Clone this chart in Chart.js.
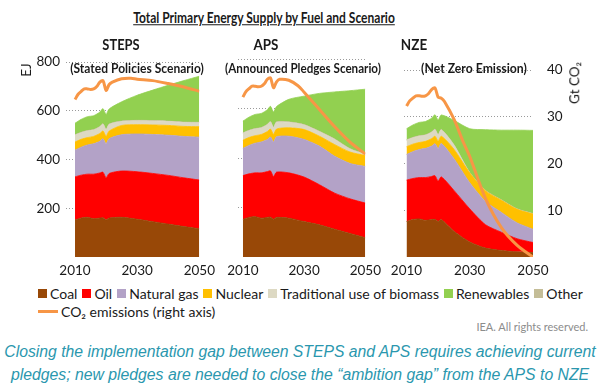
<!DOCTYPE html>
<html><head><meta charset="utf-8">
<script src="https://cdn.jsdelivr.net/npm/chart.js@4.4.1/dist/chart.umd.min.js"></script>
<style>
html,body{margin:0;padding:0;background:#fff;}
#wrap{position:relative;width:600px;height:388px;overflow:hidden;font-family:Lato,'Liberation Sans',sans-serif;color:#1a1a1a;}
canvas{position:absolute;}
.t{position:absolute;white-space:nowrap;transform:translate(-50%,-50%);line-height:1;}
.b{font-weight:bold;font-family:Lato,'Liberation Sans',sans-serif;}
.rot{transform:translate(-50%,-50%) rotate(-90deg);}
#legend{position:absolute;left:38px;top:284px;font-size:14px;font-family:Lato,'Liberation Sans',sans-serif;color:#1a1a1a;}
#legend .row{display:flex;align-items:center;height:18px;white-space:nowrap;}
#legend .sw{display:inline-block;width:9px;height:9px;margin-right:3px;}
#legend .it{display:flex;align-items:center;margin-right:5px;}
#legend .ln{display:inline-block;width:20px;height:3px;background:#F79646;margin-right:3px;}
#note{position:absolute;right:12px;top:320px;font-size:11px;color:#8c8c8c;font-family:Lato,sans-serif;}
.foot{position:absolute;left:300px;transform:translate(-50%,-50%);white-space:nowrap;font-style:italic;font-size:16px;color:#2a97ae;font-family:'Liberation Sans',sans-serif;line-height:1;}
</style>
</head><body>
<div id="wrap">
  <canvas id="c1" width="221" height="232" style="left:0px;top:48px;width:221px;height:232px"></canvas>
  <canvas id="c2" width="169" height="232" style="left:218px;top:48px;width:169px;height:232px"></canvas>
  <canvas id="c3" width="199" height="232" style="left:384px;top:48px;width:199px;height:232px"></canvas>

  <div class="t b fit" data-w="262" style="left:264px;top:18px;font-size:15.5px;text-decoration:underline;">Total Primary Energy Supply by Fuel and Scenario</div>
  <div class="t b fit" data-w="37" style="left:121px;top:44px;font-size:15px;">STEPS</div>
  <div class="t b fit" data-w="25" style="left:266px;top:44px;font-size:15px;">APS</div>
  <div class="t b fit" data-w="26" style="left:414px;top:44px;font-size:15px;">NZE</div>
  <div class="t b fit" data-w="134" style="left:137px;top:69px;font-size:13.5px;">(Stated Policies Scenario)</div>
  <div class="t b fit" data-w="156" style="left:303px;top:69px;font-size:13.5px;">(Announced Pledges Scenario)</div>
  <div class="t b fit" data-w="106" style="left:474px;top:69px;font-size:13.5px;">(Net Zero Emission)</div>
  <div class="t rot" style="left:27px;top:70px;font-size:13.5px;">EJ</div>
  <div class="t rot" style="left:575px;top:83px;font-size:13.5px;">Gt CO₂</div>

  <div id="legend"></div>
  <div id="note">IEA. All rights reserved.</div>
  <div class="foot fit" data-w="592" style="top:352px;">Closing the implementation gap between STEPS and APS requires achieving current</div>
  <div class="foot fit" data-w="578" style="top:375px;">pledges; new pledges are needed to close the “ambition gap” from the APS to NZE</div>
</div>
<script>
// ---- Data (EJ for fuels, Gt CO2 for emissions) ----
const histYears = [2010, 2012, 2014, 2016, 2018, 2019, 2020, 2021];
const histCoal = [152, 160, 163, 157, 160, 161, 153, 160];
const histOil = [177, 176, 177, 183, 185, 187, 172, 183];
const histGas = [110, 115, 120, 125, 130, 137, 140, 143];
const histNuclear = [33, 32, 30, 30, 32, 32, 31, 31];
const histTradBio = [28, 27, 27, 26, 27, 28, 26, 27];
const histOther = [2, 2, 2, 2, 2, 2, 2, 2];
const histRenew = [47, 53, 57, 57, 59, 62, 62, 62];

const projYears = [2025, 2030, 2035, 2040, 2045, 2050];

const stepsCoal = [163, 155, 145, 135, 125, 116];
const stepsOil = [190, 195, 198, 200, 200, 200];
const stepsGas = [149, 155, 160, 165, 170, 176];
const stepsNuclear = [38, 38, 39, 40, 41, 43];
const stepsTradBio = [16, 16, 16, 16, 16, 16];
const stepsOther = [2, 2, 2, 2, 2, 2];
const stepsRenew = [79, 103, 125, 147, 170, 189];

const apsCoal = [157, 143, 130, 112, 95, 78];
const apsOil = [183, 180, 162, 146, 140, 140];
const apsGas = [148, 152, 156, 149, 143, 148];
const apsNuclear = [34, 40, 40, 47, 46, 44];
const apsTradBio = [22, 18, 18, 21, 12, 4];
const apsOther = [2, 2, 2, 2, 2, 2];
const apsRenew = [91, 115, 153, 190, 234, 262];

const nzeCoal = [110, 64, 38, 28, 22, 19];
const nzeOil = [175, 142, 100, 78, 56, 43];
const nzeGas = [136, 112, 100, 85, 68, 57];
const nzeNuclear = [40, 42, 45, 52, 58, 65];
const nzeTradBio = [18, 0, 0, 0, 0, 0];
const nzeOther = [2, 2, 2, 2, 2, 2];
const nzeRenew = [104, 187, 260, 298, 337, 356];

const co2HistYears = [2010, 2011, 2012, 2013, 2014, 2015, 2016, 2017, 2018, 2019, 2020];
const co2Hist = [32.3, 33.4, 34.0, 34.5, 34.5, 34.4, 34.5, 35.0, 35.9, 36.2, 34.2];
const co2ProjYears = [2021, 2022, 2025, 2028, 2030, 2035, 2040, 2045, 2050];
const co2Steps = [35.4, 35.9, 36.6, 36.7, 36.5, 36.2, 35.6, 34.9, 34.0];
const co2Aps = [35.4, 35.9, 35.7, 34.6, 33.3, 29.8, 26.3, 23.2, 20.8];
const co2Nze = [34.0, 33.3, 29.5, 24.5, 21.5, 12.5, 6.3, 2.5, 0];

const xTicks = [2010, 2030, 2050];
const yTicks = [200, 400, 600, 800];
const y2Ticks = [10, 20, 30, 40];

const fuelLabels = ['Coal', 'Oil', 'Natural gas', 'Nuclear', 'Traditional use of biomass', 'Other', 'Renewables'];
const fuelColors = ['#984807', '#FF0000', '#B3A2C7', '#FFC000', '#DDD9C3', '#C4BD97', '#92D050'];
const legendOrder = [0, 1, 2, 3, 4, 6, 5];
const co2Label = 'CO₂ emissions (right axis)';
const co2Color = '#F79646';

const histFuels = [histCoal, histOil, histGas, histNuclear, histTradBio, histOther, histRenew];
const scenarios = [
  {id: 'c1', fuels: [stepsCoal, stepsOil, stepsGas, stepsNuclear, stepsTradBio, stepsOther, stepsRenew], co2: co2Steps, xmin: 2007.1, padL: 0, padR: 20, yW: 66, showY: true, showY2: false},
  {id: 'c2', fuels: [apsCoal, apsOil, apsGas, apsNuclear, apsTradBio, apsOther, apsRenew], co2: co2Aps, xmin: 2008.4, padL: 20, padR: 20, yW: 0, showY: false, showY2: false},
  {id: 'c3', fuels: [nzeCoal, nzeOil, nzeGas, nzeNuclear, nzeTradBio, nzeOther, nzeRenew], co2: co2Nze, xmin: 2009.2, padL: 20, padR: 0, yW: 0, showY: false, showY2: true}
];

function pts(xs, ys) { return xs.map((x, i) => ({x: x, y: ys[i]})); }
const tickFont = {family: 'Lato', size: 13.5};
const areaYears = histYears.concat(projYears);

scenarios.forEach(sc => {
  const datasets = [{
    label: co2Label,
    data: pts(co2HistYears.concat(co2ProjYears), co2Hist.concat(sc.co2)),
    yAxisID: 'y2', borderColor: co2Color, backgroundColor: co2Color,
    borderWidth: 3, pointRadius: 0, fill: false, tension: 0.3
  }];
  fuelLabels.forEach((lab, i) => {
    datasets.push({
      label: lab,
      data: pts(areaYears, histFuels[i].concat(sc.fuels[i])),
      yAxisID: 'y',
      backgroundColor: fuelColors[i], borderColor: fuelColors[i],
      borderWidth: 0.8, pointRadius: 0, tension: 0.25,
      fill: i === 0 ? 'origin' : '-1'
    });
  });
  new Chart(document.getElementById(sc.id), {
    type: 'line',
    data: {datasets: datasets},
    options: {
      responsive: false, animation: false, events: [],
      layout: {padding: {top: 11, left: sc.padL, right: sc.padR, bottom: 0}},
      plugins: {legend: {display: false}, tooltip: {enabled: false}},
      scales: {
        x: {
          type: 'linear', min: sc.xmin, max: 2050,
          afterBuildTicks: s => { s.ticks = xTicks.map(v => ({value: v})); },
          afterFit: s => { s.height = 23; },
          grid: {display: false, drawTicks: false}, border: {display: false},
          ticks: {font: tickFont, color: '#1a1a1a', padding: 6, maxRotation: 0, callback: v => String(v)}
        },
        y: {
          stacked: true, min: 0, max: 800, position: 'left',
          afterBuildTicks: s => { s.ticks = yTicks.map(v => ({value: v})); },
          afterFit: s => { s.width = sc.yW; },
          grid: {color: '#9a9a9a', lineWidth: 1, drawTicks: false},
          border: {display: false, dash: [1, 2]},
          ticks: {display: sc.showY, font: tickFont, color: '#1a1a1a', padding: 6, callback: v => String(v)}
        },
        y2: {
          display: sc.showY2, position: 'right', min: 0, max: 40,
          afterBuildTicks: s => { s.ticks = y2Ticks.map(v => ({value: v})); },
          afterFit: s => { s.width = sc.showY2 ? 50 : 0; },
          grid: {drawOnChartArea: false, drawTicks: false}, border: {display: false},
          ticks: {font: tickFont, color: '#1a1a1a', padding: 14, callback: v => String(v)}
        }
      }
    }
  });
});

// legend (HTML)
const lg = document.getElementById('legend');
const r1 = document.createElement('div'); r1.className = 'row';
legendOrder.forEach(i => {
  const it = document.createElement('span'); it.className = 'it';
  const sw = document.createElement('span'); sw.className = 'sw'; sw.style.background = fuelColors[i];
  it.appendChild(sw); it.appendChild(document.createTextNode(fuelLabels[i]));
  r1.appendChild(it);
});
const r2 = document.createElement('div'); r2.className = 'row';
const it2 = document.createElement('span'); it2.className = 'it';
const ln = document.createElement('span'); ln.className = 'ln'; ln.style.background = co2Color;
it2.appendChild(ln); it2.appendChild(document.createTextNode(co2Label));
r2.appendChild(it2);
lg.appendChild(r1); lg.appendChild(r2);

// fit text widths to the reference layout
document.querySelectorAll('.fit').forEach(el => {
  const w = el.offsetWidth, target = +el.dataset.w;
  if (w > 0) el.style.transform = 'translate(-50%,-50%) scaleX(' + (target / w).toFixed(3) + ')';
});
</script>
</body></html>
